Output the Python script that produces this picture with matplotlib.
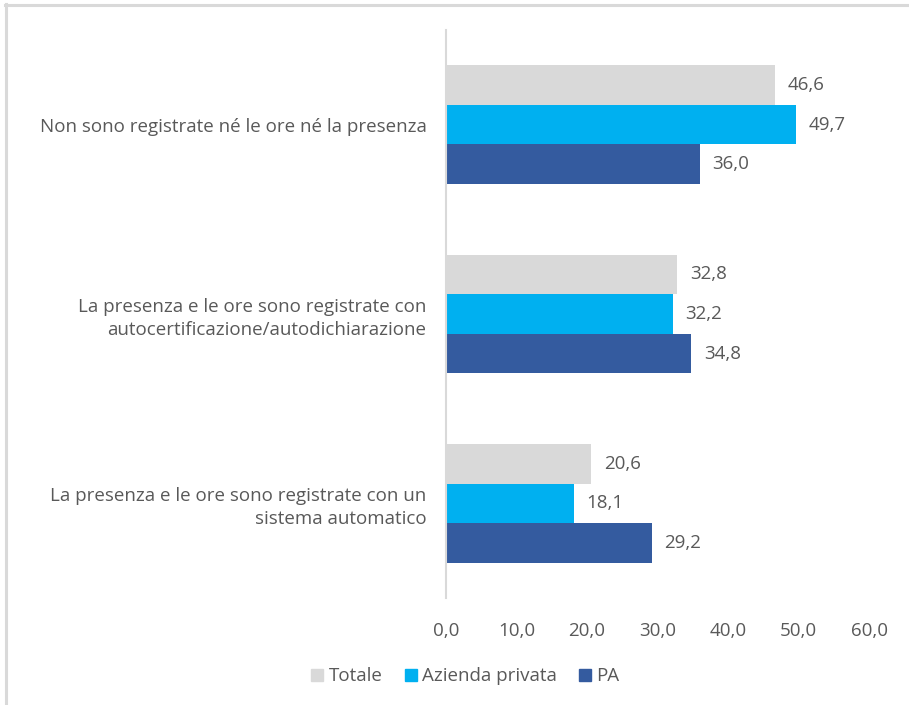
import numpy as np
from matplotlib import pyplot as plt
from matplotlib.lines import Line2D

categories = [
    'Non sono registrate né le ore né la presenza',
    'La presenza e le ore sono registrate con\nautocertificazione/autodichiarazione',
    'La presenza e le ore sono registrate con un\nsistema automatico',
]
series_names = ['Totale', 'Azienda privata', 'PA']
totale = [46.6, 32.8, 20.6]
azienda_privata = [49.7, 32.2, 18.1]
pa = [36.0, 34.8, 29.2]
x_ticks = [0, 10, 20, 30, 40, 50, 60]

colors = ['#d9d9d9', '#00b0f0', '#345b9f']
text_color = '#595959'
fs = 13.5

plt.rcParams['font.family'] = ['Open Sans', 'DejaVu Sans']

fig = plt.figure(figsize=(9.09, 7.05), dpi=100)
ax = fig.add_axes([0.4906, 0.1518, 0.4654, 0.8056])

ypos = np.arange(len(categories))
height = 0.209
all_series = [totale, azienda_privata, pa]
for i, (name, values) in enumerate(zip(series_names, all_series)):
    offs = ypos + (i - 1) * height
    ax.barh(offs, values, height=height, color=colors[i], label=name)
    for y, v in zip(offs, values):
        ax.text(v + 1.8, y, f'{v:.1f}'.replace('.', ','), va='center', ha='left',
                fontsize=fs, color=text_color)

ax.set_ylim(2.5, -0.5)
ax.set_xlim(0, 60)
ax.set_yticks(ypos)
ax.set_yticklabels(categories, fontsize=fs, color=text_color, linespacing=1.35)
ax.set_xticks(x_ticks)
ax.set_xticklabels([f'{t:.1f}'.replace('.', ',') for t in x_ticks], fontsize=fs, color=text_color)
ax.tick_params(axis='y', length=0, pad=14)
ax.tick_params(axis='x', length=0, pad=17)
for s in ['top', 'right', 'bottom']:
    ax.spines[s].set_visible(False)
ax.spines['left'].set_color('#d9d9d9')
ax.spines['left'].set_linewidth(1.5)

handles = [Line2D([], [], marker='s', linestyle='none', markersize=9,
                  markerfacecolor=c, markeredgecolor=c) for c in colors]
fig.legend(handles, series_names, loc='center', bbox_to_anchor=(0.51, 0.041),
           ncol=3, frameon=False, fontsize=fs, labelcolor=text_color,
           handletextpad=0.1, columnspacing=1.0, handlelength=1.0)

# outer frame lines (top and left)
fig.add_artist(Line2D([5.5 / 909, 5.5 / 909], [0, 1 - 4 / 705], color='#d9d9d9', lw=2.2,
                      transform=fig.transFigure))
fig.add_artist(Line2D([5 / 909, 1], [1 - 5 / 705, 1 - 5 / 705], color='#d9d9d9', lw=2.2,
                      transform=fig.transFigure))

fig.savefig('out.png', dpi=100)
